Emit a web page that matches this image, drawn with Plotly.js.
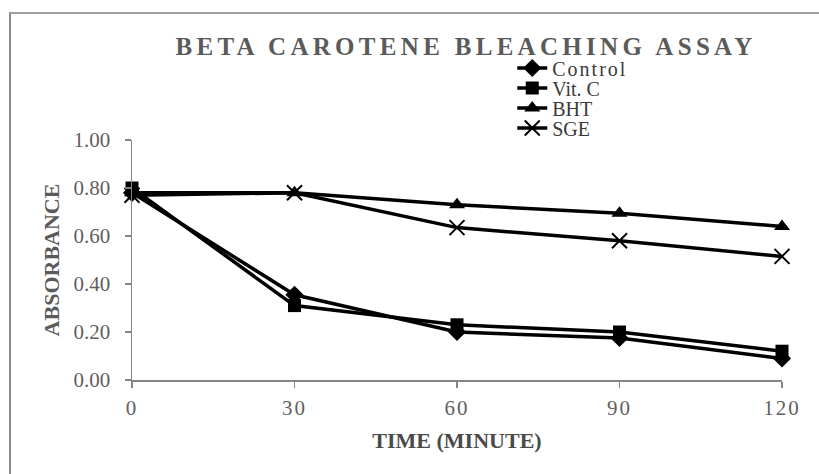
<!DOCTYPE html>
<html>
<head>
<meta charset="utf-8">
<script src="https://cdn.plot.ly/plotly-3.0.1.min.js"></script>
<style>
  html, body { margin: 0; padding: 0; background: #fff; }
  #wrap { position: relative; width: 819px; height: 474px; overflow: hidden; }
  #frame { position: absolute; left: 9px; top: 12px; width: 830px; height: 480px;
           border-left: 2px solid #8a8a8a; border-top: 2px solid #a0a0a0; pointer-events: none; }
  #chart { position: absolute; left: 0; top: 0; width: 819px; height: 474px; }
  .gtitle { letter-spacing: 4.3px; }
  .legendtext { letter-spacing: 2px; }
  .xtick text { letter-spacing: 2px; }
</style>
</head>
<body>
<div id="wrap">
  <div id="chart"></div>
  <div id="frame"></div>
</div>
<script>
const times = [0, 30, 60, 90, 120];
const control = [0.78, 0.355, 0.20, 0.175, 0.09];
const vitC = [0.80, 0.31, 0.23, 0.20, 0.12];
const bht = [0.78, 0.78, 0.73, 0.695, 0.64];
const sge = [0.77, 0.78, 0.635, 0.58, 0.515];
const xTicks = [0, 30, 60, 90, 120];
const yTicks = [0, 0.2, 0.4, 0.6, 0.8, 1.0];
const seriesNames = ['Control', 'Vit. C', 'BHT', 'SGE'];

const serif = 'Liberation Serif, serif';
const base = { mode: 'lines+markers', line: { color: '#000', width: 3.5 }, cliponaxis: false };

const traces = [
  Object.assign({}, base, { x: times, y: control, name: seriesNames[0], legend: 'legend',
    marker: { symbol: 'diamond', size: 14, color: '#000' } }),
  Object.assign({}, base, { x: times, y: vitC, name: seriesNames[1], legend: 'legend2',
    marker: { symbol: 'square', size: 13, color: '#000' } }),
  Object.assign({}, base, { x: times, y: bht, name: seriesNames[2], legend: 'legend3',
    marker: { symbol: 'triangle-up', size: 14, color: '#000' } }),
  Object.assign({}, base, { x: times, y: sge, name: seriesNames[3], legend: 'legend4',
    marker: { symbol: 'x-thin-open', size: 15, color: '#000', line: { color: '#000', width: 2 } } })
];

// legend anchored in paper coordinates of the plot area (plot spans x 132..782)
function leg(y) {
  return { x: 0.585, y: y, xanchor: 'left', yanchor: 'middle', bgcolor: 'rgba(0,0,0,0)',
           font: { family: serif, size: 20, color: '#3a3a3a' }, itemwidth: 30 };
}

const layout = {
  width: 819, height: 474,
  margin: { l: 132, r: 37, t: 140, b: 94 },
  paper_bgcolor: '#fff', plot_bgcolor: '#fff',
  showlegend: true,
  title: { text: '<b>BETA CAROTENE BLEACHING ASSAY</b>', x: 0.569, xanchor: 'center', y: 0.903, yanchor: 'middle',
           font: { family: serif, size: 25, color: '#5a5a5a' } },
  legend: leg(1.30),
  legend2: leg(1.2167),
  legend3: leg(1.1333),
  legend4: leg(1.05),
  xaxis: {
    range: [0, 120], tickvals: xTicks, ticktext: xTicks.map(String),
    showgrid: false, zeroline: false, showline: true, linecolor: '#858585', linewidth: 1.5,
    ticks: 'outside', ticklen: 6, tickcolor: '#858585', tickwidth: 1.5,
    ticklabelstandoff: 2,
    tickfont: { family: serif, size: 21, color: '#5f5f5f' },
    title: { text: '<b>TIME (MINUTE)</b>', font: { family: serif, size: 22, color: '#4a4a4a' }, standoff: 14 }
  },
  yaxis: {
    range: [0, 1.0], tickvals: yTicks, ticktext: yTicks.map(v => v.toFixed(2)),
    showgrid: false, zeroline: false, showline: true, linecolor: '#858585', linewidth: 1.5,
    ticks: 'outside', ticklen: 6, tickcolor: '#858585', tickwidth: 1.5,
    ticklabelstandoff: 10,
    tickfont: { family: serif, size: 21, color: '#5f5f5f' },
    title: { text: '<b>ABSORBANCE</b>', font: { family: serif, size: 22, color: '#5a5a5a' }, standoff: 8 }
  }
};

Plotly.newPlot('chart', traces, layout, { displayModeBar: false, staticPlot: true });
</script>
</body>
</html>
